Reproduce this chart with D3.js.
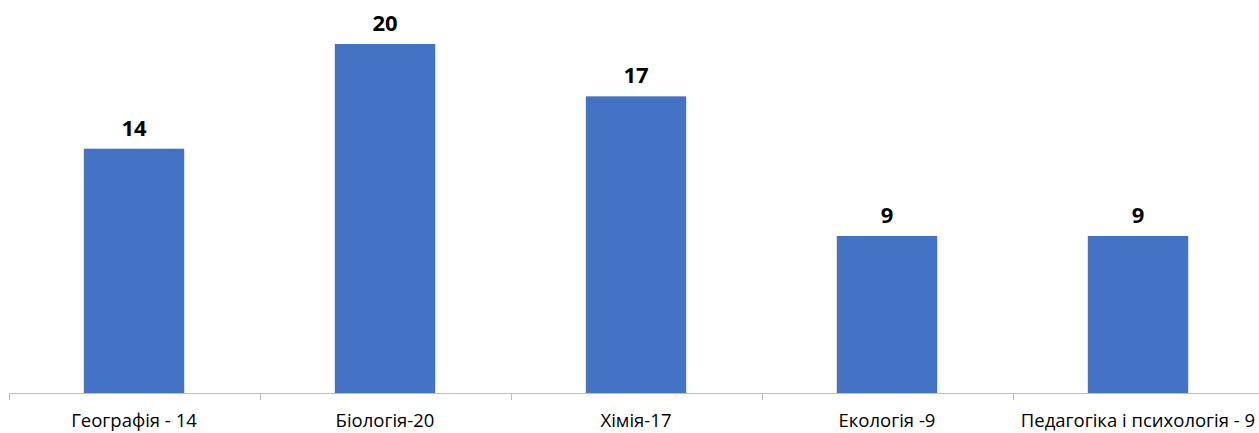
<!DOCTYPE html>
<html>
<head>
<meta charset="utf-8">
<script src="https://cdn.jsdelivr.net/npm/d3@7"></script>
<style>
  html, body { margin: 0; padding: 0; background: #fff; }
  svg { display: block; }
</style>
</head>
<body>
<script>
const categories = ["Географія - 14", "Біологія-20", "Хімія-17", "Екологія -9", "Педагогіка і психологія - 9"];
const values = [14, 20, 17, 9, 9];

const W = 1259, H = 433;
const svg = d3.select("body").append("svg").attr("width", W).attr("height", H);

const x = d3.scaleBand().domain(categories).range([8.5, 1263.5]).paddingInner(0.6).paddingOuter(0.3);
const xb = d3.scaleBand().domain(categories).range([8.5, 1263.5]).padding(0);
const y = d3.scaleLinear().domain([0, 20]).range([393, 44]);

svg.selectAll("rect.bar").data(values).enter().append("rect")
  .attr("class", "bar")
  .attr("x", (d, i) => x(categories[i]))
  .attr("y", d => y(d))
  .attr("width", x.bandwidth())
  .attr("height", d => y(0) - y(d))
  .attr("fill", "#4472C4");

// axis
const axis = d3.axisBottom(xb).tickSize(0).tickPadding(0).tickFormat("");
const g = svg.append("g").attr("transform", `translate(0,${y(0)})`).call(axis);
g.select(".domain").attr("stroke", "#BFBFBF").attr("stroke-width", 1);
// category separators
const seps = categories.map(c => xb(c)).concat([xb.range()[1]]);
g.selectAll("line.sep").data(seps).enter().append("line")
  .attr("class", "sep")
  .attr("x1", d => Math.round(d) + 0.5).attr("x2", d => Math.round(d) + 0.5)
  .attr("y1", 0).attr("y2", 7)
  .attr("stroke", "#BFBFBF");

svg.selectAll("text.cat").data(categories).enter().append("text")
  .attr("class", "cat")
  .attr("x", d => xb(d) + xb.bandwidth() / 2)
  .attr("y", 427)
  .attr("text-anchor", "middle")
  .attr("font-family", "Open Sans, sans-serif")
  .attr("font-size", 18.5)
  .attr("fill", "#000")
  .text(d => d);

svg.selectAll("text.val").data(values).enter().append("text")
  .attr("class", "val")
  .attr("x", (d, i) => x(categories[i]) + x.bandwidth() / 2)
  .attr("y", d => y(d) - 13)
  .attr("text-anchor", "middle")
  .attr("font-family", "Open Sans, sans-serif")
  .attr("font-weight", "bold")
  .attr("font-size", 22)
  .attr("fill", "#000")
  .text(d => d);
</script>
</body>
</html>
